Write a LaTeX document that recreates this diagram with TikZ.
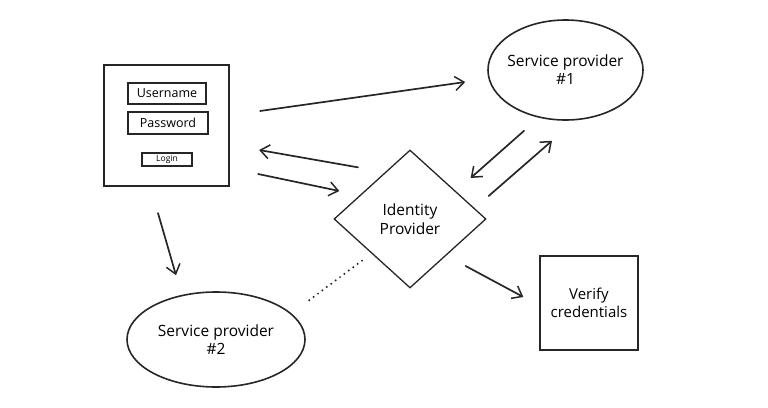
\documentclass[tikz,border=0pt]{standalone}
\usepackage{fontspec}
\setmainfont{Open Sans}
\usepackage{tikz}
\usetikzlibrary{positioning}
\usetikzlibrary{arrows.meta}
\usetikzlibrary{shapes.geometric}
\usetikzlibrary{calc}
\tikzset{loginframe/.style={%
        rectangle,
        line width=2.2pt,
        minimum width=125pt,
        minimum height=121pt,
        inner sep=0pt,
        draw=black!85
    }}
\tikzset{field/.style={%
        rectangle,
        line width=1.6pt,
        minimum height=21pt,
        inner sep=0pt,
        font=\fontsize{12.5}{14}\selectfont,
        draw=black!85
    }}
\tikzset{party/.style={%
        ellipse,
        line width=1.6pt,
        align=center,
        inner xsep=-14pt,
        inner ysep=-8pt,
        font=\fontsize{15.5}{18}\selectfont,
        draw=black!85
    }}
\tikzset{idpbox/.style={%
        diamond,
        line width=1.3pt,
        align=center,
        inner sep=0pt,
        minimum width=152pt,
        minimum height=138pt,
        font=\fontsize{15.5}{19}\selectfont,
        draw=black!85
    }}
\tikzset{checkbox/.style={%
        rectangle,
        line width=1.3pt,
        align=center,
        inner sep=0pt,
        minimum width=98pt,
        minimum height=94pt,
        font=\fontsize{15}{18}\selectfont,
        draw=black!85
    }}
\tikzset{arr/.style={%
        line width=1.7pt,
        line cap=round,
        draw=black!85,
        -{Straight Barb[length=9pt,width=14pt,line width=1.5pt]}
    }}

\begin{document}
\begin{tikzpicture}[x=1pt,y=-1pt]
    \useasboundingbox (0,0) rectangle (768,407);
    % login screen
    \node [loginframe] (login) at (166.5,125.5) {};
    \node [field, minimum width=78pt] (user) at (167,93.5) {Username};
    \node [field, minimum width=80pt, minimum height=22pt] (pass) at (168,123) {Password};
    \node [field, minimum width=50pt, minimum height=13pt, line width=1.3pt,
           font=\fontsize{8.5}{10}\selectfont] (btn) at (167,159.5) {Login};
    % parties
    \node [party, minimum width=155pt, minimum height=100pt] (sp1) at (565.5,70) {Service provider\\\#1};
    \node [party, minimum width=178pt, minimum height=95pt] (sp2) at (216,339.5) {Service provider\\\#2};
    \node [idpbox] (idp) at (410,219) {Identity\\Provider};
    \node [checkbox] (verify) at (589,303) {Verify\\credentials};
    % flows
    \draw [arr] ($(login.east)+(30,-14.5)$) -- ($(sp1.west)+(-22,12)$);
    \draw [arr] ($(idp.north)+(-52,18)$) -- ($(login.east)+(29,24.5)$);
    \draw [arr] ($(login.east)+(28,48.5)$) -- ($(idp.west)+(6,-28)$);
    \draw [arr] ($(sp1.south)+(-41.5,10)$) -- ($(idp.east)+(-16,-41)$);
    \draw [arr] ($(idp.east)+(2,-23)$) -- ($(sp1.south)+(-13.5,20)$);
    \draw [arr] ($(login.south)+(-8.5,26)$) -- ($(sp2.north)+(-40,-16)$);
    \draw [arr] ($(idp.east)+(-21,47)$) -- ($(verify.west)+(-16,-6)$);
    \draw [line width=2.2pt, line cap=round, dash pattern=on 0pt off 5.5pt, draw=black!85]
        ($(idp.south)+(-48,-28)$) -- ($(sp2.east)+(1,-37.5)$);
\end{tikzpicture}
\end{document}
